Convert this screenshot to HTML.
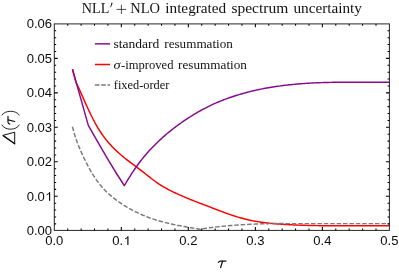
<!DOCTYPE html>
<html><head><meta charset="utf-8"><title>plot</title>
<style>
html,body{margin:0;padding:0;background:#fff;}
body{width:399px;height:275px;overflow:hidden;}
svg{display:block;will-change:transform;}
.tk{font-family:"Liberation Sans",sans-serif;font-size:12.0px;fill:#0d0d0d;}
.ser{font-family:"Liberation Serif",serif;fill:#111;}
.ax{font-family:"Liberation Sans",sans-serif;font-style:italic;fill:#1a1a1a;}
</style></head><body>
<svg width="399" height="275" viewBox="0 0 399 275">
<rect width="399" height="275" fill="#fff"/>
<g fill="none" stroke-linejoin="round" stroke-linecap="butt">
<path d="M72.40 69.20L76.00 82.30L77.00 84.22L78.00 86.43L79.00 88.66L80.00 90.91L81.00 93.16L82.00 95.41L83.00 97.66L84.00 99.91L85.00 102.14L86.00 104.35L87.00 106.54L88.00 108.70L89.00 110.83L90.00 112.92L91.00 114.98L92.00 117.00L93.00 118.97L94.00 120.89L95.00 122.76L96.00 124.58L97.00 126.34L98.00 128.04L99.00 129.67L100.00 131.25L101.00 132.77L102.00 134.24L103.00 135.65L104.00 137.01L105.00 138.32L106.00 139.59L107.00 140.81L108.00 142.00L109.00 143.15L110.00 144.27L111.00 145.36L112.00 146.42L113.00 147.45L114.00 148.46L115.00 149.45L116.00 150.41L117.00 151.35L118.00 152.27L119.00 153.18L120.00 154.06L121.00 154.93L122.00 155.79L123.00 156.63L124.00 157.45L125.00 158.26L126.00 159.06L127.00 159.85L128.00 160.63L129.00 161.40L130.00 162.16L131.00 162.91L132.00 163.66L133.00 164.40L134.00 165.15L135.00 165.89L136.00 166.63L137.00 167.37L138.00 168.11L139.00 168.86L140.00 169.61L141.00 170.37L142.00 171.14L143.00 171.91L144.00 172.69L145.00 173.48L146.00 174.27L147.00 175.07L148.00 175.86L149.00 176.65L150.00 177.44L151.00 178.22L152.00 179.00L153.00 179.76L154.00 180.51L155.00 181.25L156.00 181.97L157.00 182.68L158.00 183.36L159.00 184.03L160.00 184.67L161.00 185.30L162.00 185.92L163.00 186.51L164.00 187.09L165.00 187.66L166.00 188.22L167.00 188.76L168.00 189.29L169.00 189.81L170.00 190.32L171.00 190.83L172.00 191.32L173.00 191.81L174.00 192.29L175.00 192.77L176.00 193.24L177.00 193.70L178.00 194.16L179.00 194.62L180.00 195.06L181.00 195.51L182.00 195.95L183.00 196.38L184.00 196.81L185.00 197.23L186.00 197.66L187.00 198.07L188.00 198.49L189.00 198.90L190.00 199.30L191.00 199.71L192.00 200.11L193.00 200.51L194.00 200.90L195.00 201.30L196.00 201.69L197.00 202.08L198.00 202.46L199.00 202.85L200.00 203.24L201.00 203.62L202.00 204.00L203.00 204.38L204.00 204.77L205.00 205.15L206.00 205.53L207.00 205.91L208.00 206.29L209.00 206.67L210.00 207.05L211.00 207.43L212.00 207.82L213.00 208.20L214.00 208.58L215.00 208.97L216.00 209.35L217.00 209.73L218.00 210.11L219.00 210.49L220.00 210.87L221.00 211.25L222.00 211.62L223.00 212.00L224.00 212.37L225.00 212.73L226.00 213.10L227.00 213.46L228.00 213.82L229.00 214.17L230.00 214.52L231.00 214.86L232.00 215.20L233.00 215.54L234.00 215.87L235.00 216.19L236.00 216.51L237.00 216.82L238.00 217.13L239.00 217.43L240.00 217.72L241.00 218.00L242.00 218.28L243.00 218.55L244.00 218.81L245.00 219.07L246.00 219.31L247.00 219.55L248.00 219.79L249.00 220.01L250.00 220.23L251.00 220.44L252.00 220.64L253.00 220.84L254.00 221.03L255.00 221.21L256.00 221.39L257.00 221.56L258.00 221.72L259.00 221.88L260.00 222.03L261.00 222.18L262.00 222.32L263.00 222.46L264.00 222.59L265.00 222.72L266.00 222.84L267.00 222.96L268.00 223.07L269.00 223.18L270.00 223.29L271.00 223.39L272.00 223.49L273.00 223.58L274.00 223.67L275.00 223.75L276.00 223.84L277.00 223.92L278.00 223.99L279.00 224.07L280.00 224.14L281.00 224.21L282.00 224.27L283.00 224.34L284.00 224.40L285.00 224.46L286.00 224.52L287.00 224.57L288.00 224.63L289.00 224.68L290.00 224.73L291.00 224.78L292.00 224.83L293.00 224.88L294.00 224.93L295.00 224.97L296.00 225.01L297.00 225.06L298.00 225.10L299.00 225.14L300.00 225.17L301.00 225.21L302.00 225.24L303.00 225.28L304.00 225.31L305.00 225.34L306.00 225.37L307.00 225.40L308.00 225.43L309.00 225.46L310.00 225.48L311.00 225.51L312.00 225.53L313.00 225.55L314.00 225.57L315.00 225.59L316.00 225.61L317.00 225.63L318.00 225.65L319.00 225.66L320.00 225.68L321.00 225.69L322.00 225.71L323.00 225.72L324.00 225.73L325.00 225.74L326.00 225.80L327.00 225.80L328.00 225.80L329.00 225.80L330.00 225.80L331.00 225.80L332.00 225.80L333.00 225.80L334.00 225.80L335.00 225.80L336.00 225.80L337.00 225.80L338.00 225.80L339.00 225.80L340.00 225.80L341.00 225.80L342.00 225.80L343.00 225.80L344.00 225.80L345.00 225.80L346.00 225.80L347.00 225.80L348.00 225.80L349.00 225.80L350.00 225.80L351.00 225.80L352.00 225.80L353.00 225.80L354.00 225.80L355.00 225.80L356.00 225.80L357.00 225.80L358.00 225.80L359.00 225.80L360.00 225.80L361.00 225.80L362.00 225.80L363.00 225.80L364.00 225.80L365.00 225.80L366.00 225.80L367.00 225.80L368.00 225.80L369.00 225.80L370.00 225.80L371.00 225.80L372.00 225.80L373.00 225.80L374.00 225.80L375.00 225.80L376.00 225.80L377.00 225.80L378.00 225.80L379.00 225.80L380.00 225.80L381.00 225.80L382.00 225.80L383.00 225.80L384.00 225.80L385.00 225.80L386.00 225.80L387.00 225.80L388.00 225.80L389.00 225.80L389.40 225.80" stroke="#ff0000" stroke-width="1.45"/>
<path d="M72.50 69.20L88.30 125.40L98.00 142.40L108.20 159.80L116.50 173.50L122.00 182.00L124.30 185.60L125.80 183.19L127.30 180.65L128.80 178.18L130.30 175.78L131.80 173.45L133.30 171.19L134.80 168.98L136.30 166.84L137.80 164.76L139.30 162.74L140.80 160.78L142.30 158.87L143.80 157.02L145.30 155.22L146.80 153.46L148.30 151.76L149.80 150.10L151.30 148.49L152.80 146.92L154.30 145.39L155.80 143.89L157.30 142.43L158.80 141.00L160.30 139.61L161.80 138.24L163.30 136.90L164.80 135.59L166.30 134.31L167.80 133.05L169.30 131.82L170.80 130.61L172.30 129.42L173.80 128.25L175.30 127.11L176.80 125.99L178.30 124.88L179.80 123.80L181.30 122.74L182.80 121.70L184.30 120.67L185.80 119.66L187.30 118.67L188.80 117.70L190.30 116.75L191.80 115.81L193.30 114.88L194.80 113.98L196.30 113.09L197.80 112.21L199.30 111.35L200.80 110.50L202.30 109.68L203.80 108.87L205.30 108.07L206.80 107.30L208.30 106.54L209.80 105.80L211.30 105.09L212.80 104.39L214.30 103.71L215.80 103.05L217.30 102.41L218.80 101.78L220.30 101.17L221.80 100.57L223.30 99.99L224.80 99.41L226.30 98.85L227.80 98.31L229.30 97.77L230.80 97.25L232.30 96.74L233.80 96.24L235.30 95.76L236.80 95.28L238.30 94.82L239.80 94.37L241.30 93.93L242.80 93.50L244.30 93.08L245.80 92.68L247.30 92.28L248.80 91.89L250.30 91.52L251.80 91.15L253.30 90.79L254.80 90.45L256.30 90.11L257.80 89.78L259.30 89.46L260.80 89.16L262.30 88.86L263.80 88.56L265.30 88.28L266.80 88.01L268.30 87.74L269.80 87.48L271.30 87.23L272.80 86.99L274.30 86.76L275.80 86.53L277.30 86.31L278.80 86.10L280.30 85.90L281.80 85.70L283.30 85.51L284.80 85.32L286.30 85.15L287.80 84.98L289.30 84.81L290.80 84.66L292.30 84.50L293.80 84.36L295.30 84.22L296.80 84.09L298.30 83.96L299.80 83.84L301.30 83.72L302.80 83.61L304.30 83.50L305.80 83.40L307.30 83.31L308.80 83.22L310.30 83.13L311.80 83.05L313.30 82.97L314.80 82.90L316.30 82.83L317.80 82.77L319.30 82.71L320.80 82.65L322.30 82.60L323.80 82.55L325.30 82.51L326.80 82.47L328.30 82.43L329.80 82.39L331.30 82.36L332.80 82.33L334.30 82.31L335.80 82.28L337.30 82.26L338.80 82.24L340.30 82.23L341.80 82.21L343.30 82.25L344.80 82.25L346.30 82.25L347.80 82.25L349.30 82.25L350.80 82.25L352.30 82.25L353.80 82.25L355.30 82.25L356.80 82.25L358.30 82.25L359.80 82.25L361.30 82.25L362.80 82.25L364.30 82.25L365.80 82.25L367.30 82.25L368.80 82.25L370.30 82.25L371.80 82.25L373.30 82.25L374.80 82.25L376.30 82.25L377.80 82.25L379.30 82.25L380.80 82.25L382.30 82.25L383.80 82.25L385.30 82.25L386.80 82.25L388.30 82.25L389.40 82.25" stroke="#850a8c" stroke-width="1.45"/>
<path d="M72.40 126.71L73.40 130.29L74.40 133.73L75.40 137.00L76.40 140.07L77.40 142.90L78.40 145.49L79.40 147.89L80.40 150.18L81.40 152.40L82.40 154.59L83.40 156.73L84.40 158.84L85.40 160.89L86.40 162.90L87.40 164.86L88.40 166.77L89.40 168.62L90.40 170.41L91.40 172.14L92.40 173.80L93.40 175.41L94.40 176.96L95.40 178.45L96.40 179.89L97.40 181.27L98.40 182.61L99.40 183.89L100.40 185.13L101.40 186.32L102.40 187.47L103.40 188.58L104.40 189.65L105.40 190.68L106.40 191.67L107.40 192.63L108.40 193.56L109.40 194.46L110.40 195.34L111.40 196.18L112.40 197.01L113.40 197.81L114.40 198.59L115.40 199.35L116.40 200.09L117.40 200.82L118.40 201.54L119.40 202.24L120.40 202.93L121.40 203.61L122.40 204.27L123.40 204.92L124.40 205.55L125.40 206.17L126.40 206.78L127.40 207.38L128.40 207.97L129.40 208.54L130.40 209.10L131.40 209.65L132.40 210.19L133.40 210.71L134.40 211.23L135.40 211.73L136.40 212.22L137.40 212.71L138.40 213.18L139.40 213.64L140.40 214.09L141.40 214.53L142.40 214.96L143.40 215.38L144.40 215.79L145.40 216.20L146.40 216.59L147.40 216.98L148.40 217.35L149.40 217.72L150.40 218.08L151.40 218.43L152.40 218.77L153.40 219.11L154.40 219.43L155.40 219.75L156.40 220.07L157.40 220.37L158.40 220.67L159.40 220.96L160.40 221.24L161.40 221.52L162.40 221.80L163.40 222.06L164.40 222.32L165.40 222.58L166.40 222.83L167.40 223.07L168.40 223.31L169.40 223.54L170.40 223.77L171.40 223.99L172.40 224.21L173.40 224.43L174.40 224.64L175.40 224.85L176.40 225.05L177.40 225.25L178.40 225.45L179.40 225.64L180.40 225.83L181.40 226.02L182.40 226.21L183.40 226.39L184.40 226.57L185.40 226.75L186.40 226.92L187.40 227.10L188.40 227.27L189.40 227.44L190.40 227.61L191.40 227.78L192.40 227.95L193.40 228.12L194.40 228.29L195.40 228.45L196.40 228.62L197.40 228.79L198.40 228.95L199.40 229.12L200.30 229.20L201.80 228.83L203.30 228.61L204.80 228.40L206.30 228.19L207.80 227.99L209.30 227.79L210.80 227.60L212.30 227.41L213.80 227.23L215.30 227.06L216.80 226.88L218.30 226.72L219.80 226.56L221.30 226.40L222.80 226.25L224.30 226.11L225.80 225.97L227.30 225.83L228.80 225.70L230.30 225.57L231.80 225.45L233.30 225.33L234.80 225.22L236.30 225.11L237.80 225.00L239.30 224.90L240.80 224.81L242.30 224.71L243.80 224.62L245.30 224.54L246.80 224.46L248.30 224.38L249.80 224.31L251.30 224.23L252.80 224.17L254.30 224.10L255.80 224.04L257.30 223.99L258.80 223.93L260.30 223.88L261.80 223.84L263.30 223.79L264.80 223.75L266.30 223.71L267.80 223.67L269.30 223.64L270.80 223.61L272.30 223.58L273.80 223.56L275.30 223.53L276.80 223.51L278.30 223.49L279.80 223.48L281.30 223.46L282.80 223.45L284.30 223.44L285.80 223.60L287.30 223.60L288.80 223.60L290.30 223.60L291.80 223.60L293.30 223.60L294.80 223.60L296.30 223.60L297.80 223.60L299.30 223.60L300.80 223.60L302.30 223.60L303.80 223.60L305.30 223.60L306.80 223.60L308.30 223.60L309.80 223.60L311.30 223.60L312.80 223.60L314.30 223.60L315.80 223.60L317.30 223.60L318.80 223.60L320.30 223.60L321.80 223.60L323.30 223.60L324.80 223.60L326.30 223.60L327.80 223.60L329.30 223.60L330.80 223.60L332.30 223.60L333.80 223.60L335.30 223.60L336.80 223.60L338.30 223.60L339.80 223.60L341.30 223.60L342.80 223.60L344.30 223.60L345.80 223.60L347.30 223.60L348.80 223.60L350.30 223.60L351.80 223.60L353.30 223.60L354.80 223.60L356.30 223.60L357.80 223.60L359.30 223.60L360.80 223.60L362.30 223.60L363.80 223.60L365.30 223.60L366.80 223.60L368.30 223.60L369.80 223.60L371.30 223.60L372.80 223.60L374.30 223.60L375.80 223.60L377.30 223.60L378.80 223.60L380.30 223.60L381.80 223.60L383.30 223.60L384.80 223.60L386.30 223.60L387.80 223.60L389.30 223.60L389.40 223.60" stroke="#7a7a7a" stroke-width="1.45" stroke-dasharray="4.55 1.85"/>
</g>
<g fill="none" stroke="#262626" stroke-width="1">
<rect x="54.3" y="23.9" width="335.10" height="206.50"/>
<path d="M67.70 230.40V228.55M67.70 23.90V25.75M81.11 230.40V228.55M81.11 23.90V25.75M94.51 230.40V228.55M94.51 23.90V25.75M107.92 230.40V228.55M107.92 23.90V25.75M121.32 230.40V226.95M121.32 23.90V27.35M134.72 230.40V228.55M134.72 23.90V25.75M148.13 230.40V228.55M148.13 23.90V25.75M161.53 230.40V228.55M161.53 23.90V25.75M174.94 230.40V228.55M174.94 23.90V25.75M188.34 230.40V226.95M188.34 23.90V27.35M201.74 230.40V228.55M201.74 23.90V25.75M215.15 230.40V228.55M215.15 23.90V25.75M228.55 230.40V228.55M228.55 23.90V25.75M241.96 230.40V228.55M241.96 23.90V25.75M255.36 230.40V226.95M255.36 23.90V27.35M268.76 230.40V228.55M268.76 23.90V25.75M282.17 230.40V228.55M282.17 23.90V25.75M295.57 230.40V228.55M295.57 23.90V25.75M308.98 230.40V228.55M308.98 23.90V25.75M322.38 230.40V226.95M322.38 23.90V27.35M335.78 230.40V228.55M335.78 23.90V25.75M349.19 230.40V228.55M349.19 23.90V25.75M362.59 230.40V228.55M362.59 23.90V25.75M376.00 230.40V228.55M376.00 23.90V25.75M54.30 223.85H56.15M389.40 223.85H387.55M54.30 216.96H56.15M389.40 216.96H387.55M54.30 210.06H56.15M389.40 210.06H387.55M54.30 203.17H56.15M389.40 203.17H387.55M54.30 196.28H57.75M389.40 196.28H385.95M54.30 189.38H56.15M389.40 189.38H387.55M54.30 182.48H56.15M389.40 182.48H387.55M54.30 175.59H56.15M389.40 175.59H387.55M54.30 168.69H56.15M389.40 168.69H387.55M54.30 161.80H57.75M389.40 161.80H385.95M54.30 154.91H56.15M389.40 154.91H387.55M54.30 148.01H56.15M389.40 148.01H387.55M54.30 141.12H56.15M389.40 141.12H387.55M54.30 134.22H56.15M389.40 134.22H387.55M54.30 127.33H57.75M389.40 127.33H385.95M54.30 120.43H56.15M389.40 120.43H387.55M54.30 113.53H56.15M389.40 113.53H387.55M54.30 106.64H56.15M389.40 106.64H387.55M54.30 99.75H56.15M389.40 99.75H387.55M54.30 92.85H57.75M389.40 92.85H385.95M54.30 85.96H56.15M389.40 85.96H387.55M54.30 79.06H56.15M389.40 79.06H387.55M54.30 72.16H56.15M389.40 72.16H387.55M54.30 65.27H56.15M389.40 65.27H387.55M54.30 58.37H57.75M389.40 58.37H385.95M54.30 51.48H56.15M389.40 51.48H387.55M54.30 44.58H56.15M389.40 44.58H387.55M54.30 37.69H56.15M389.40 37.69H387.55M54.30 30.79H56.15M389.40 30.79H387.55" stroke="#000" stroke-width="1.05"/>
</g>
<g class="tk">
<text transform="translate(54.30 245.00) scale(1.090 1)" text-anchor="middle">0.0</text>
<text transform="translate(112.23 245.00) scale(1.090 1)" text-anchor="start">0.</text>
<text transform="translate(188.34 245.00) scale(1.090 1)" text-anchor="middle">0.2</text>
<text transform="translate(255.36 245.00) scale(1.090 1)" text-anchor="middle">0.3</text>
<text transform="translate(322.38 245.00) scale(1.090 1)" text-anchor="middle">0.4</text>
<text transform="translate(389.40 245.00) scale(1.090 1)" text-anchor="middle">0.5</text>
<text transform="translate(52.10 235.30) scale(1.090 1)" text-anchor="end">0.00</text>
<text transform="translate(44.83 200.83) scale(1.090 1)" text-anchor="end">0.0</text>
<text transform="translate(52.10 166.35) scale(1.090 1)" text-anchor="end">0.02</text>
<text transform="translate(52.10 131.88) scale(1.090 1)" text-anchor="end">0.03</text>
<text transform="translate(52.10 97.40) scale(1.090 1)" text-anchor="end">0.04</text>
<text transform="translate(52.10 62.92) scale(1.090 1)" text-anchor="end">0.05</text>
<text transform="translate(52.10 28.45) scale(1.090 1)" text-anchor="end">0.06</text>
<g fill="none" stroke="#0d0d0d" stroke-linecap="butt"><path d="M127.89 245.00V236.45" stroke-width="1.2"/><path d="M127.84 236.55Q127.29 238.45 124.99 238.90" stroke-width="0.95"/><path d="M49.58 200.83V192.28" stroke-width="1.2"/><path d="M49.53 192.38Q48.98 194.28 46.68 194.72" stroke-width="0.95"/></g>
</g>
<g class="ser" font-size="14.3">
<text x="81.80" y="12.80" textLength="27.50" lengthAdjust="spacingAndGlyphs">NLL</text>
<text x="130.30" y="12.80" textLength="29.70" lengthAdjust="spacingAndGlyphs">NLO</text>
<text x="165.30" y="12.80" textLength="60.90" lengthAdjust="spacingAndGlyphs">integrated</text>
<text x="231.40" y="12.80" textLength="56.80" lengthAdjust="spacingAndGlyphs">spectrum</text>
<text x="293.40" y="12.80" textLength="68.60" lengthAdjust="spacingAndGlyphs">uncertainty</text>
</g>
<path d="M116.6 9.4H126.2M121.4 4.7V14.0" fill="none" stroke="#111" stroke-width="0.75"/>
<path d="M111.5 2.6L112.6 3.1L110.9 7.4L110.35 7.2Z" fill="#111"/>
<g fill="none" stroke-width="1.5">
<path d="M94.9 43.85H110.1" stroke="#850a8c" stroke-width="1.45"/>
<path d="M94.9 64.5H110.0" stroke="#ff0000"/>
<path d="M94.9 85.0H110.0" stroke="#7a7a7a" stroke-width="1.45" stroke-dasharray="4.6 1.7"/>
</g>
<g class="ser" font-size="12.2">
<text x="113.40" y="47.60" textLength="45.90" lengthAdjust="spacingAndGlyphs">standard</text>
<text x="164.30" y="47.60" textLength="68.60" lengthAdjust="spacingAndGlyphs">resummation</text>
<text x="113.60" y="68.60" textLength="7.10" lengthAdjust="spacingAndGlyphs" font-style="italic">σ</text>
<text x="121.10" y="68.60" textLength="52.40" lengthAdjust="spacingAndGlyphs">-improved</text>
<text x="178.10" y="68.60" textLength="68.80" lengthAdjust="spacingAndGlyphs">resummation</text>
<text x="113.80" y="89.40" textLength="55.50" lengthAdjust="spacingAndGlyphs">fixed-order</text>
</g>
<g fill="none" stroke="#111" stroke-linecap="round" stroke-linejoin="round">
<path d="M218.4 262.4Q218.9 261.1 220.4 261.1L226.0 261.1" stroke-width="1.15"/>
<path d="M222.5 261.2L220.6 267.6" stroke-width="1.25"/>
<path d="M14.7 132.6L14.7 143.8L3.2 135.6Z" stroke-width="1.0" stroke-linejoin="miter"/>
<path d="M14.7 143.8L3.2 135.6" stroke-width="1.35"/>
<path d="M2.0 125.0C4.6 130.7 16.6 130.7 19.2 125.0" stroke-width="0.9"/>
<path d="M2.0 115.1C4.6 109.9 16.6 109.9 19.2 115.1" stroke-width="0.9"/>
<path d="M8.0 116.2L8.0 122.0Q8.0 123.6 9.8 124.1" stroke-width="1.15"/>
<path d="M8.2 119.9L14.6 121.5" stroke-width="1.25"/>
</g>
</svg>
</body></html>
